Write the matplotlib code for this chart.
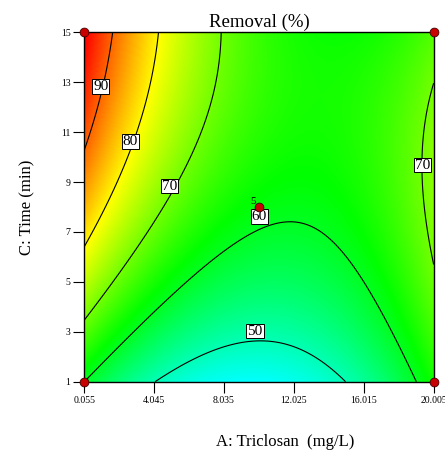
"""
Contour plot of the Removal (%) response surface, Triclosan dose vs. time.
"""

import numpy as np
import matplotlib.pyplot as plt
from matplotlib.colors import LinearSegmentedColormap

plt.rcParams["font.family"] = ["Liberation Serif", "DejaVu Serif"]

# factor ranges (actual units)
A_LOW, A_HIGH = 0.055, 20.005   # Triclosan, mg/L
C_LOW, C_HIGH = 1.0, 15.0       # Time, min

# quadratic model in coded units:
# R = b0 + bA*A + bC*C + bAC*A*C + bAA*A^2 + bCC*C^2
coef_names = ["b0", "bA", "bC", "bAC", "bAA", "bCC"]
coef_values = [61.45, -6.58, 10.445, -8.215, 16.5, -5.87]

contour_levels = [50, 60, 70, 80, 90]
x_ticks = [0.055, 4.045, 8.035, 12.025, 16.015, 20.005]
y_ticks = [1, 3, 5, 7, 9, 11, 13, 15]

# design points: factorial corners + centre (5 replicates)
design_a = [0.055, 0.055, 20.005, 20.005, 10.03]
design_c = [1, 15, 1, 15, 8]

# contour label texts and where they sit
label_text = ["90", "80", "70", "60", "50", "70"]
label_a = [0.99, 2.67, 4.90, 10.04, 9.80, 19.36]
label_c = [12.82, 10.63, 8.84, 7.63, 3.03, 9.68]


def removal(a, c):
    """Evaluate the fitted model at actual factor levels."""
    x = (a - (A_LOW + A_HIGH) / 2) / ((A_HIGH - A_LOW) / 2)
    y = (c - (C_LOW + C_HIGH) / 2) / ((C_HIGH - C_LOW) / 2)
    b = dict(zip(coef_names, coef_values))
    return (b["b0"] + b["bA"] * x + b["bC"] * y + b["bAC"] * x * y
            + b["bAA"] * x ** 2 + b["bCC"] * y ** 2)


# Design-Expert style rainbow
cmap = LinearSegmentedColormap.from_list(
    "de", ["#0000ff", "#00ffff", "#00ff00", "#ffff00", "#ff0000"])

aa, cc = np.meshgrid(np.linspace(A_LOW, A_HIGH, 300), np.linspace(C_LOW, C_HIGH, 300))
zz = removal(aa, cc)

fig = plt.figure(figsize=(4.45, 4.61), dpi=100)
ax = fig.add_axes([0.1895, 0.172, 0.785, 0.758])

ax.imshow(zz, origin="lower", extent=[A_LOW, A_HIGH, C_LOW, C_HIGH],
          aspect="auto", cmap=cmap, vmin=27.5, vmax=97.0, interpolation="bilinear")
ax.contour(aa, cc, zz, levels=contour_levels, colors="black", linewidths=0.8)

for txt, a, c in zip(label_text, label_a, label_c):
    ax.text(a, c, txt, fontsize=11, ha="center", va="center", zorder=6,
            bbox=dict(facecolor="white", edgecolor="black", linewidth=0.7, pad=0.7))

ax.scatter(design_a, design_c, s=40, color="#c80000", edgecolor="#400000",
           linewidth=0.6, zorder=7, clip_on=False)
ax.text(design_a[4] - 0.2, design_c[4] + 0.02, "5", fontsize=8, ha="right",
        va="bottom", zorder=7)

ax.set_xlim(A_LOW, A_HIGH)
ax.set_ylim(C_LOW, C_HIGH)
ax.set_xticks(x_ticks)
ax.set_xticklabels([f"{v:.3f}" for v in x_ticks])
ax.set_yticks(y_ticks)
ax.tick_params(direction="out", length=8, width=0.8, labelsize=7, pad=2)
for s in ax.spines.values():
    s.set_linewidth(1.0)

ax.set_title("Removal (%)", fontsize=13.5, pad=4)
ax.set_ylabel("C: Time (min)", fontsize=12, labelpad=18)
fig.text(0.64, 0.024, "A: Triclosan  (mg/L)", fontsize=12, ha="center", va="bottom")

fig.savefig("out.png", dpi=100)
